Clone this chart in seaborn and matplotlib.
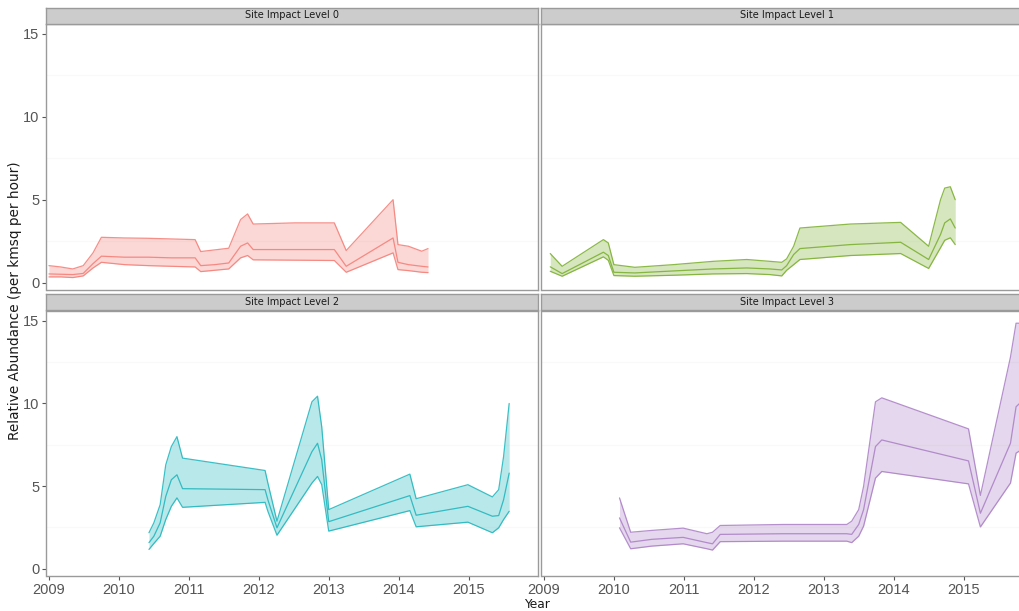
import numpy as np
import pandas as pd
import matplotlib
matplotlib.use("Agg")
import matplotlib.pyplot as plt
import seaborn as sns

# ---- data: lower bound, estimate and upper bound per impact level ----
levels = ["Site Impact Level 0", "Site Impact Level 1", "Site Impact Level 2", "Site Impact Level 3"]

years0 = [2009.00, 2009.17, 2009.34, 2009.49, 2009.63, 2009.75, 2010.08, 2010.42, 2010.75, 2011.09,
          2011.17, 2011.37, 2011.57, 2011.74, 2011.84, 2011.92, 2012.51, 2013.08, 2013.25, 2013.92,
          2013.99, 2014.14, 2014.33, 2014.42]
hi0 = [1.02, 0.94, 0.82, 1.02, 1.79, 2.73, 2.69, 2.67, 2.63, 2.59, 1.87, 1.97, 2.07, 3.80, 4.14, 3.53,
       3.60, 3.60, 1.93, 5.00, 2.29, 2.19, 1.89, 2.05]
mid0 = [0.52, 0.50, 0.48, 0.55, 1.14, 1.59, 1.53, 1.53, 1.49, 1.49, 1.02, 1.08, 1.18, 2.19, 2.39, 1.99,
        1.99, 1.99, 0.98, 2.69, 1.22, 1.08, 0.98, 0.94]
lo0 = [0.34, 0.34, 0.30, 0.40, 0.88, 1.22, 1.08, 1.02, 0.98, 0.94, 0.66, 0.74, 0.82, 1.49, 1.63, 1.37,
       1.35, 1.33, 0.62, 1.79, 0.78, 0.72, 0.62, 0.60]

years1 = [2009.09, 2009.26, 2009.85, 2009.92, 2010.00, 2010.30, 2010.85, 2011.42, 2011.90, 2012.23,
          2012.40, 2012.47, 2012.57, 2012.66, 2013.38, 2014.10, 2014.50, 2014.67, 2014.73, 2014.81,
          2014.88]
hi1 = [1.75, 0.98, 2.59, 2.39, 1.08, 0.92, 1.08, 1.28, 1.39, 1.28, 1.22, 1.43, 2.19, 3.29, 3.53, 3.63,
       2.19, 5.00, 5.70, 5.78, 5.00]
mid1 = [0.95, 0.54, 1.83, 1.63, 0.62, 0.58, 0.70, 0.82, 0.88, 0.82, 0.76, 1.02, 1.69, 2.05, 2.29, 2.43,
        1.39, 2.90, 3.60, 3.84, 3.29]
lo1 = [0.68, 0.38, 1.55, 1.34, 0.42, 0.38, 0.44, 0.52, 0.54, 0.48, 0.40, 0.74, 1.08, 1.39, 1.63, 1.75,
       0.85, 2.10, 2.55, 2.70, 2.29]

years2 = [2010.43, 2010.50, 2010.59, 2010.67, 2010.75, 2010.83, 2010.91, 2012.09, 2012.13, 2012.26,
          2012.76, 2012.84, 2012.90, 2013.00, 2014.16, 2014.25, 2014.99, 2015.34, 2015.43, 2015.50,
          2015.58]
hi2 = [2.17, 2.77, 3.87, 6.28, 7.39, 7.99, 6.69, 5.94, 5.18, 2.87, 10.10, 10.44, 8.59, 3.57, 5.72, 4.23,
       5.08, 4.34, 4.78, 6.78, 10.00]
mid2 = [1.57, 1.96, 2.77, 4.37, 5.38, 5.68, 4.84, 4.78, 4.17, 2.47, 7.08, 7.59, 6.58, 2.84, 4.42, 3.23,
        3.77, 3.17, 3.21, 4.17, 5.78]
lo2 = [1.16, 1.52, 1.96, 2.97, 3.77, 4.28, 3.71, 4.01, 3.47, 2.02, 5.18, 5.58, 5.08, 2.27, 3.51, 2.53,
       2.81, 2.17, 2.47, 2.97, 3.47]

years3 = [2010.08, 2010.24, 2010.54, 2010.99, 2011.33, 2011.41, 2011.52, 2012.42, 2013.33, 2013.40,
          2013.50, 2013.57, 2013.74, 2013.83, 2015.07, 2015.24, 2015.67, 2015.75, 2015.90]
hi3 = [4.28, 2.20, 2.31, 2.45, 2.11, 2.20, 2.61, 2.67, 2.67, 2.87, 3.57, 4.98, 10.10, 10.34, 8.46, 4.43,
       12.81, 14.86, 14.86]
mid3 = [3.07, 1.60, 1.77, 1.89, 1.57, 1.50, 2.07, 2.11, 2.11, 2.07, 2.67, 3.57, 7.39, 7.79, 6.52, 3.35,
        7.59, 9.80, 10.40]
lo3 = [2.47, 1.20, 1.36, 1.50, 1.20, 1.12, 1.63, 1.66, 1.66, 1.57, 1.96, 2.57, 5.48, 5.88, 5.13, 2.52,
       5.18, 6.99, 7.40]

level_colors = ["#F47C74", "#78AD2A", "#1AB4BB", "#A97DC4"]
year_ticks = [2009, 2010, 2011, 2012, 2013, 2014, 2015]
value_ticks = [0, 5, 10, 15]

series = [(years0, lo0, mid0, hi0), (years1, lo1, mid1, hi1),
          (years2, lo2, mid2, hi2), (years3, lo3, mid3, hi3)]

frames = []
for name, (yr, lo, mid, hi) in zip(levels, series):
    frames.append(pd.DataFrame({"level": name, "year": yr, "lower": lo, "estimate": mid, "upper": hi}))
df = pd.concat(frames, ignore_index=True)

# ---- styling ----
sns.set_theme(style="white")
plt.rcParams["font.family"] = ["Liberation Sans", "DejaVu Sans"]

W, H = 1020, 611
fig = plt.figure(figsize=(W / 100, H / 100), dpi=100)
fig.patch.set_facecolor("white")


def frac_box(x0, y0, x1, y1):
    """Pixel box (top-left origin) to figure fraction rect."""
    return [x0 / W, 1 - y1 / H, (x1 - x0) / W, (y1 - y0) / H]


col_x = [(46.5, 537.5), (541.5, 1032.5)]
row_y = [(24.0, 290.0), (311.0, 576.0)]
strip_y = [(7.5, 23.5), (294.5, 310.5)]

for i, name in enumerate(levels):
    r, c = divmod(i, 2)
    x0, x1 = col_x[c]
    y0, y1 = row_y[r]
    ax = fig.add_axes(frac_box(x0, y0, x1, y1))
    sub = df[df["level"] == name]
    color = level_colors[i]

    # very faint minor grid
    for g in [2.5, 7.5, 12.5]:
        ax.axhline(g, color="#F9F9F9", lw=0.8, zorder=0)

    ax.fill_between(sub["year"], sub["lower"], sub["upper"], color=color, alpha=0.3, lw=0, zorder=1)
    for col in ["lower", "estimate", "upper"]:
        sns.lineplot(data=sub, x="year", y=col, ax=ax, color=color, lw=0.9, alpha=0.85,
                     estimator=None, sort=False, legend=False, zorder=2)

    ax.set_xlim(2008.965, 2015.985)
    ax.set_ylim(-0.45, 15.6)
    ax.set_xlabel("")
    ax.set_ylabel("")
    ax.set_xticks(year_ticks)
    ax.set_yticks(value_ticks)
    ax.grid(False)
    for s in ax.spines.values():
        s.set_color("#9A9A9A")
        s.set_linewidth(1.0)
    ax.tick_params(axis="both", which="both", length=3, width=0.8, color="#555555",
                   labelsize=10.5, labelcolor="#555555", pad=2)
    ax.tick_params(axis="x", bottom=(r == 1), labelbottom=(r == 1))
    ax.tick_params(axis="y", left=(c == 0), labelleft=(c == 0))
    ax.set_xticklabels([str(t) for t in year_ticks])
    ax.set_yticklabels([str(t) for t in value_ticks])

    # facet strip
    sy0, sy1 = strip_y[r]
    sax = fig.add_axes(frac_box(x0, sy0, x1, sy1))
    sax.set_facecolor("#CCCCCC")
    sax.set_xticks([])
    sax.set_yticks([])
    for s in sax.spines.values():
        s.set_color("#9A9A9A")
        s.set_linewidth(1.0)
    sax.text(0.5, 0.5, name, transform=sax.transAxes, ha="center", va="center",
             fontsize=7.0, color="#1A1A1A", family="DejaVu Sans")

fig.text(15 / W, 1 - 301 / H, "Relative Abundance (per kmsq per hour)", rotation=90,
         ha="center", va="center", fontsize=9.8, color="#1A1A1A", family="DejaVu Sans")
fig.text(537 / W, 1 - 604 / H, "Year", ha="center", va="center", fontsize=8.8, color="#1A1A1A",
         family="DejaVu Sans")

fig.savefig("out.png", dpi=100)
